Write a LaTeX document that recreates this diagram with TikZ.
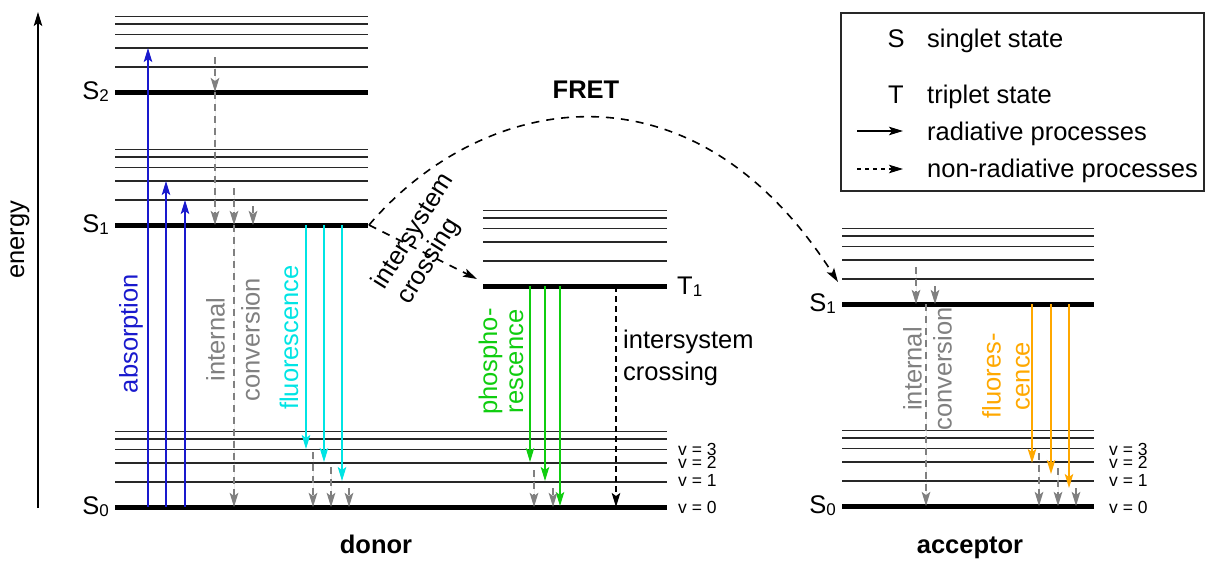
\documentclass[tikz,border=0pt]{standalone}
\usepackage{fontspec}
\setmainfont{Liberation Sans}
\usetikzlibrary{arrows.meta}

\definecolor{absblue}{RGB}{25,25,205}
\definecolor{fluocyan}{RGB}{0,228,228}
\definecolor{phosgreen}{RGB}{15,205,15}
\definecolor{accorange}{RGB}{255,168,0}
\definecolor{procgray}{RGB}{128,128,128}
\definecolor{levelgray}{RGB}{40,40,40}

% one electronic state: thick base line plus five vibrational levels above it
\newcommand{\energylevel}[3]{%
  \foreach \d in {25,44,57.5,68,75.5}
    \draw[thinlvl] (#1,{#3-\d}) -- (#2,{#3-\d});
  \draw[thicklvl] (#1,#3) -- (#2,#3);}
\newcommand{\lsub}[1]{\raisebox{-2pt}{\fontsize{17}{17}\selectfont #1}}

\begin{document}
\begin{tikzpicture}[x=1pt,y=-1pt,
  tipend/.style={-{Stealth[length=14pt,width=8.5pt,inset=3pt]}},
  thinlvl/.style={line width=1.6pt, draw=levelgray},
  thicklvl/.style={line width=5pt, draw=black},
  rad/.style={tipend, line width=1.6pt},
  nonrad/.style={tipend, line width=2.2pt, draw=procgray, fill=procgray, dash pattern=on 7pt off 5pt},
  blackdash/.style={tipend, line width=1.6pt, dash pattern=on 8pt off 7pt},
  lbl/.style={font=\fontsize{25.5}{30}\selectfont, inner sep=0pt},
  vlbl/.style={font=\fontsize{17.5}{20}\selectfont, inner sep=0pt, anchor=west},
  bigbold/.style={font=\bfseries\fontsize{25.5}{30}\selectfont, inner sep=0pt}]
\useasboundingbox (0,0) rectangle (1206,560);

% energy axis
\draw[tipend, line width=1.3pt] (38,508) coordinate (eLow) -- (38,12) coordinate (eHigh);
\node[lbl, rotate=90] (energy) at (20,240) {energy};

% donor states
\energylevel{115}{368}{92}
\energylevel{115}{368}{225}
\energylevel{483}{667}{286}
\energylevel{115}{667}{507}
% acceptor states
\energylevel{842}{1094}{304}
\energylevel{842}{1094}{506}

% state labels
\node[lbl, anchor=east] (lS2) at (109,92) {S\lsub{2}};
\node[lbl, anchor=east] (lS1) at (109,225) {S\lsub{1}};
\node[lbl, anchor=east] (lS0) at (109,507) {S\lsub{0}};
\node[lbl, anchor=west] (lT1) at (677,287) {T\lsub{1}};
\node[lbl, anchor=east] (lAS1) at (836,304) {S\lsub{1}};
\node[lbl, anchor=east] (lAS0) at (836,506) {S\lsub{0}};

% vibrational quantum numbers
\foreach \xx in {678,1109} {
  \node[vlbl] at (\xx,449) {v = 3};
  \node[vlbl] at (\xx,462.5) {v = 2};
  \node[vlbl] at (\xx,480.5) {v = 1};
  \node[vlbl] at (\xx,507) {v = 0};
}

% absorption
\draw[rad, draw=absblue, fill=absblue] (148,507) -- (148,48);
\draw[rad, draw=absblue, fill=absblue] (166,507) -- (166,181);
\draw[rad, draw=absblue, fill=absblue] (185,507) -- (185,200);
\node[lbl, rotate=90, text=absblue] (absorb) at (131,333.5) {absorption};

% donor internal conversion
\draw[nonrad] (215,57) -- (215,92);
\draw[nonrad] (215,92) -- (215,225);
\draw[nonrad] (234,188) -- (234,225);
\draw[nonrad] (253,206) -- (253,225);
\draw[nonrad] (234,225) -- (234,507);
\node[lbl, rotate=90, text=procgray, align=center, font=\fontsize{25.5}{35}\selectfont] (icD) at (233,339.5) {internal\\conversion};

% donor fluorescence
\draw[rad, draw=fluocyan, fill=fluocyan] (306,225) -- (306,449);
\draw[rad, draw=fluocyan, fill=fluocyan] (324,225) -- (324,462);
\draw[rad, draw=fluocyan, fill=fluocyan] (342,225) -- (342,481);
\draw[nonrad] (313,452) -- (313,507);
\draw[nonrad] (331,467) -- (331,507);
\draw[nonrad] (349,488) -- (349,507);
\node[lbl, rotate=90, text=fluocyan] (fluoD) at (289,337.5) {fluorescence};

% intersystem crossing S1 -> T1
\coordinate (s1end) at (369,225);
\coordinate (t1in) at (477,279);
\draw[blackdash] (s1end) -- (t1in);
\node[lbl, rotate=58, align=left, font=\fontsize{25.5}{29}\selectfont] (iscD) at (426,239) {intersystem\\crossing};

% FRET
\coordinate (accin) at (838,282);
\draw[blackdash] (s1end) .. controls (480,95) and (690,50) .. (accin);
\node[bigbold] (fret) at (586,90) {FRET};

% phosphorescence
\draw[rad, draw=phosgreen, fill=phosgreen] (530,286) -- (530,462);
\draw[rad, draw=phosgreen, fill=phosgreen] (545,286) -- (545,481);
\draw[rad, draw=phosgreen, fill=phosgreen] (560,286) -- (560,506);
\draw[nonrad] (534,470) -- (534,507);
\draw[nonrad] (553,488) -- (553,507);
\node[lbl, rotate=90, text=phosgreen, align=center, font=\fontsize{25.5}{26}\selectfont] (phos) at (501,361.5) {phospho-\\rescence};

% intersystem crossing T1 -> S0
\draw[blackdash, dash pattern=on 6pt off 4pt] (616,286) -- (616,507);
\node[lbl, anchor=west, align=left, font=\fontsize{25.5}{32}\selectfont] (iscT) at (623,358) {intersystem\\crossing};

% acceptor internal conversion
\draw[nonrad] (916,267) -- (916,304);
\draw[nonrad] (935,286) -- (935,304);
\draw[nonrad] (926,304) -- (926,506);
\node[lbl, rotate=90, text=procgray, align=center, font=\fontsize{25.5}{30}\selectfont] (icA) at (927.5,369) {internal\\conversion};

% acceptor fluorescence
\draw[rad, draw=accorange, fill=accorange] (1032,304) -- (1032,463);
\draw[rad, draw=accorange, fill=accorange] (1051,304) -- (1051,474);
\draw[rad, draw=accorange, fill=accorange] (1069,304) -- (1069,488);
\draw[nonrad] (1039,453) -- (1039,506);
\draw[nonrad] (1058,468) -- (1058,506);
\draw[nonrad] (1076,488) -- (1076,506);
\node[lbl, rotate=90, text=accorange, align=center, font=\fontsize{25.5}{29}\selectfont] (fluoA) at (1006,376) {fluores-\\cence};

% molecule names
\node[bigbold, anchor=base] (donor) at (376,553) {donor};
\node[bigbold, anchor=base] (acceptor) at (970,553) {acceptor};

% legend
\draw[line width=1.3pt, draw=levelgray] (841,13) rectangle (1204,191);
\node[lbl, anchor=base] (legS) at (896,47) {S};
\node[lbl, anchor=base west] (legSt) at (927,47) {singlet\ state};
\node[lbl, anchor=base] (legT) at (896,103) {T};
\node[lbl, anchor=base west] (legTt) at (927,103) {triplet\ state};
\coordinate (radA) at (857,131);
\coordinate (radB) at (903,131);
\draw[rad, line width=1.3pt] (radA) -- (radB);
\node[lbl, anchor=base west] (legR) at (927,140) {radiative\ processes};
\coordinate (nonA) at (857,169);
\coordinate (nonB) at (903,169);
\draw[tipend, line width=1.3pt, dash pattern=on 4pt off 4pt] (nonA) -- (nonB);
\node[lbl, anchor=base west] (legN) at (927,177) {non-radiative processes};
\end{tikzpicture}
\end{document}
